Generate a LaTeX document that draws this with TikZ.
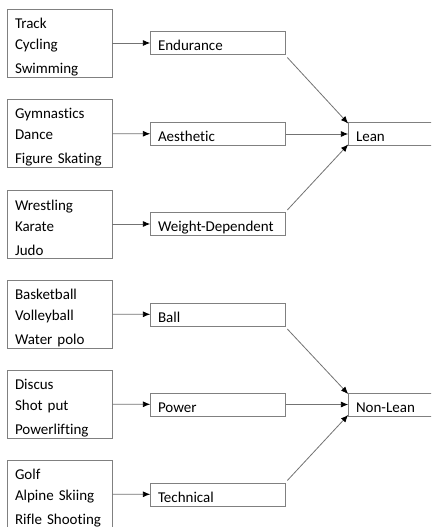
\documentclass[tikz,border=0pt]{standalone}
\usepackage{fontspec}
\setmainfont{Carlito}[Ligatures=NoCommon]
\usetikzlibrary{arrows.meta}
\tikzset{
  sports/.style={draw=black!50, line width=0.7pt, align=left, text width=66.75pt,
    inner xsep=6pt, inner ysep=0pt, minimum height=51pt, font=\fontsize{11.25}{15.75}\selectfont,
    execute at begin node={\rule{0pt}{13.5pt}}},
  kind/.style={draw=black!50, line width=0.7pt, align=left, text width=90pt,
    inner xsep=5.5pt, inner ysep=0pt, text height=11.5pt, text depth=0pt,
    minimum height=17.25pt, font=\fontsize{11.25}{12}\selectfont},
  outcome/.style={kind, text width=72pt},
  link/.style={draw=black!55, line width=0.6pt, -{Latex[length=5.5pt,width=4.5pt,color=black]}}
}
\begin{document}
\begin{tikzpicture}[x=0.75pt, y=-0.75pt]
                \useasboundingbox (0.000000,0.000000) rectangle (431.000000,527.000000);
                \clip (0.000000,0.000000) rectangle (431.000000,527.000000);

                % Drawing sport groups
                \node [sports] (track) at (59.500000,43.000000) {Track\\Cycling\\[2.25pt]Swimming};%
                \node [sports] (gym) at (59.500000,133.500000) {Gymnastics\\Dance\\[2.25pt]Figure Skating};%
                \node [sports] (wrest) at (59.500000,224.000000) {Wrestling\\Karate\\[2.25pt]Judo};%
                \node [sports] (bask) at (59.500000,314.000000) {Basketball\\Volleyball\\[2.25pt]Water polo};%
                \node [sports] (disc) at (59.500000,404.000000) {Discus\\Shot put\\[2.25pt]Powerlifting};%
                \node [sports] (golf) at (59.500000,494.000000) {Golf\\Alpine Skiing\\[2.25pt]Rifle Shooting};%

                % Drawing sport kinds
                \node [kind] (endu) at (218.000000,43.000000) {Endurance};%
                \node [kind] (aest) at (218.000000,134.000000) {Aesthetic};%
                \node [kind] (weig) at (218.000000,224.000000) {Weight-Dependent};%
                \node [kind] (ball) at (218.000000,314.500000) {Ball};%
                \node [kind] (powr) at (218.000000,404.500000) {Power};%
                \node [kind] (tech) at (218.000000,494.500000) {Technical};%

                % Drawing outcomes
                \node [outcome] (lean) at (404.000000,134.000000) {Lean};%
                \node [outcome] (nonl) at (404.000000,404.500000) {Non-Lean};%

                % Drawing links group -> kind
                \draw [link] (track) -- (endu);%
                \draw [link] (gym) -- (aest);%
                \draw [link] (wrest) -- (weig);%
                \draw [link] (bask) -- (ball);%
                \draw [link] (disc) -- (powr);%
                \draw [link] (golf) -- (tech);%

                % Drawing links kind -> Lean
                \draw [link] ([shift={(1.5,2.5)}]endu.south east) -- ([shift={(0,1.5)}]lean.north west);%
                \draw [link] (aest) -- (lean);%
                \draw [link] ([shift={(1.5,-2)}]weig.north east) -- ([shift={(0,-1.5)}]lean.south west);%

                % Drawing links kind -> Non-Lean
                \draw [link] ([shift={(1.5,2.5)}]ball.south east) -- ([shift={(0,1.5)}]nonl.north west);%
                \draw [link] (powr) -- (nonl);%
                \draw [link] ([shift={(1.5,-2)}]tech.north east) -- ([shift={(0,-1.5)}]nonl.south west);%
\end{tikzpicture}
\end{document}
